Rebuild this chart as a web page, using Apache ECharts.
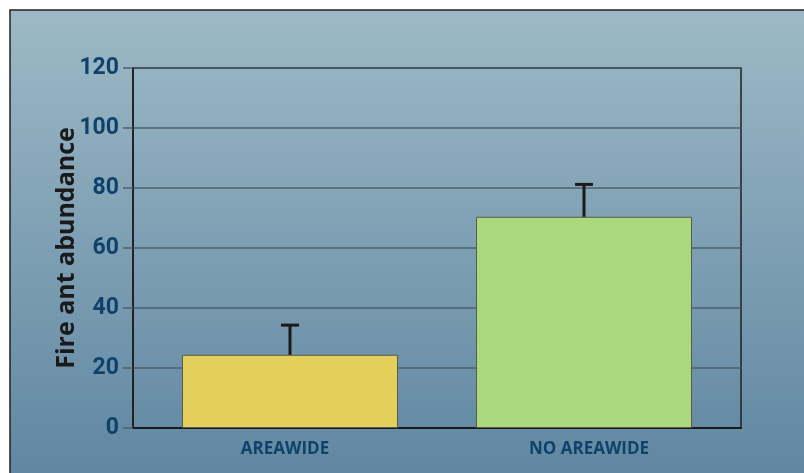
<!DOCTYPE html>
<html>
<head>
<meta charset="utf-8">
<script src="https://cdn.jsdelivr.net/npm/echarts@6/dist/echarts.min.js"></script>
<style>html,body{margin:0;padding:0;background:#fff;}#c{width:804px;height:473px;}</style>
</head>
<body>
<div id="c"></div>
<script>
const categories = ['AREAWIDE', 'NO AREAWIDE'];
const abundance = [24.4, 70.4];
const errorUpper = [34.3, 81.2];
const yTicks = [0, 20, 40, 60, 80, 100, 120];
const barColors = ['#e2cf5c', '#aad87c'];

// layout constants
const BAR_W = 216;
const BAR_GAP_PX = -226;           // overlap so each bar sits slightly inward from the category centre
const SHIFT = (BAR_W + BAR_GAP_PX) / 2; // = -5, bar centre offset from category centre (outward positive)

const barSeries = categories.map((c, i) => ({
  type: 'bar',
  name: c,
  data: abundance.map((v, j) => (j === i ? v : '-')),
  barWidth: BAR_W,
  barGap: (BAR_GAP_PX / BAR_W * 100) + '%',
  itemStyle: {color: barColors[i], borderColor: '#5a5a4a', borderWidth: 1},
  z: 3
}));

const chart = echarts.init(document.getElementById('c'), null, {renderer: 'canvas'});
chart.setOption({
  animation: false,
  graphic: [{
    type: 'rect', z: -10, silent: true,
    shape: {x: 10, y: 10, width: 800, height: 470},
    style: {
      fill: new echarts.graphic.LinearGradient(0, 0, 0, 1, [
        {offset: 0, color: '#9db9c6'},
        {offset: 1, color: '#5f86a1'}
      ]),
      stroke: '#222', lineWidth: 1.5
    }
  }],
  grid: {left: 133, right: 63, top: 68, bottom: 45, show: true, borderColor: '#222', borderWidth: 1.5, backgroundColor: 'transparent'},
  xAxis: {
    type: 'category', data: categories,
    axisLine: {lineStyle: {color: '#1a1a1a', width: 2}},
    axisTick: {show: false},
    axisLabel: {color: '#0f426b', fontFamily: 'Open Sans', fontWeight: 'bold', fontSize: 17, margin: 13}
  },
  yAxis: {
    type: 'value', min: yTicks[0], max: yTicks[yTicks.length - 1], interval: 20,
    name: 'Fire ant abundance', nameLocation: 'middle', nameGap: 54, nameMoveOverlap: false,
    nameTextStyle: {color: '#1a1a1a', fontFamily: 'Open Sans', fontWeight: 'bold', fontSize: 25},
    axisLine: {show: true, lineStyle: {color: '#1a1a1a', width: 1.5}},
    axisTick: {show: true, length: 10, lineStyle: {color: '#4d5f6d', width: 1.5}},
    axisLabel: {color: '#0f426b', fontFamily: '"Liberation Sans Narrow", "Roboto"', fontWeight: 'bold', fontSize: 23, margin: 14},
    splitLine: {show: true, lineStyle: {color: '#4d5f6d', width: 1.5}}
  },
  series: barSeries.concat([{
    type: 'custom',
    z: 4,
    data: errorUpper.map((v, i) => [i, abundance[i], v]),
    renderItem: function (params, api) {
      const i = api.value(0);
      const base = api.coord([i, api.value(1)]);
      const top = api.coord([i, api.value(2)]);
      const dx = (i === 0 ? -1 : 1) * SHIFT;
      const x = base[0] + dx;
      const hw = 9;
      return {
        type: 'group',
        children: [
          {type: 'line', shape: {x1: x, y1: base[1], x2: x, y2: top[1]}, style: {stroke: '#1a1a1a', lineWidth: 3}},
          {type: 'line', shape: {x1: x - hw, y1: top[1], x2: x + hw, y2: top[1]}, style: {stroke: '#1a1a1a', lineWidth: 3}}
        ]
      };
    }
  }])
});
</script>
</body>
</html>
